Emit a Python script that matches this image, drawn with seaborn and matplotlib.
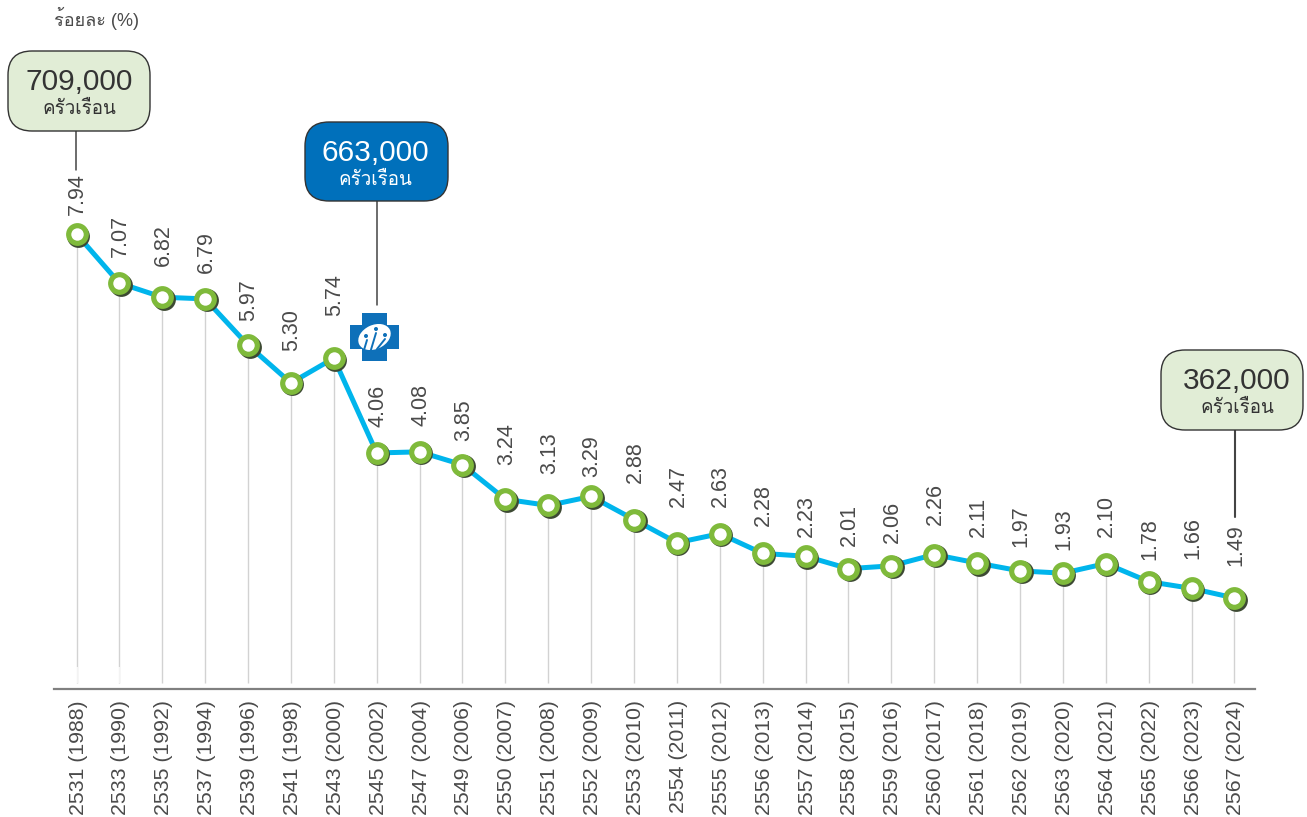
import matplotlib
matplotlib.use("Agg")
import matplotlib.pyplot as plt
import matplotlib.font_manager as fm
import seaborn as sns
from matplotlib.patches import FancyBboxPatch, Rectangle, Ellipse, Circle
from matplotlib.transforms import ScaledTranslation

W, H = 1307, 817

years = ["2531 (1988)", "2533 (1990)", "2535 (1992)", "2537 (1994)", "2539 (1996)", "2541 (1998)", "2543 (2000)",
         "2545 (2002)", "2547 (2004)", "2549 (2006)", "2550 (2007)", "2551 (2008)", "2552 (2009)", "2553 (2010)",
         "2554 (2011)", "2555 (2012)", "2556 (2013)", "2557 (2014)", "2558 (2015)", "2559 (2016)", "2560 (2017)",
         "2561 (2018)", "2562 (2019)", "2563 (2020)", "2564 (2021)", "2565 (2022)", "2566 (2023)", "2567 (2024)"]
values = [7.94, 7.07, 6.82, 6.79, 5.97, 5.30, 5.74, 4.06, 4.08, 3.85, 3.24, 3.13, 3.29, 2.88,
          2.47, 2.63, 2.28, 2.23, 2.01, 2.06, 2.26, 2.11, 1.97, 1.93, 2.10, 1.78, 1.66, 1.49]
y_title = "ร้อยละ (%)"
unit = "ครัวเรือน"
callouts = ["709,000", "663,000", "362,000"]

# hand-placed label baselines in the reference (pixels from the top of the picture)
label_bottoms = [217, 259, 268, 275, 323, 353, 318, 429, 428, 443, 467, 476, 479, 485,
                 509, 509, 528, 539, 548, 545, 527, 539, 549, 552, 539, 562, 561, 568]

sns.set_theme(style="white")

thai = []
for f in fm.fontManager.ttflist:
    try:
        cm = fm.get_font(f.fname).get_charmap()
    except Exception:
        continue
    if 0x0E04 in cm and f.name not in thai:
        thai.append(f.name)
latin = "Liberation Sans"
plt.rcParams["font.family"] = [latin] + thai + ["DejaVu Sans"]

fig = plt.figure(figsize=(W / 100, H / 100), dpi=100)
ax = fig.add_axes([54 / W, (H - 689) / H, (1255 - 54) / W, 689 / H])
px_per_x = (1235 - 77) / 27
px_per_y = (598 - 234) / (7.94 - 1.49)
y0 = 598 + 1.49 * px_per_y
ax.set_xlim(-(76.5 - 54) / px_per_x, 27 + (1255.5 - 1235) / px_per_x)
ax.set_ylim(-(689 - y0) / px_per_y, y0 / px_per_y)

xs = list(range(len(values)))
ax.vlines(xs, -(683 - y0) / px_per_y, values, color="#d2d2d2", lw=1.0, zorder=1)
ax.vlines(xs[:2], -(683 - y0) / px_per_y, -(667 - y0) / px_per_y, color="white", lw=1.6, alpha=0.75, zorder=1.5)
sns.lineplot(x=xs, y=values, ax=ax, color="#00b5ec", lw=3.6, zorder=2, legend=False)
shadow = ax.transData + ScaledTranslation(1.5 / 100, -1.5 / 100, fig.dpi_scale_trans)
ax.scatter(xs, values, s=270, color="#3d4a33", lw=0, zorder=3, transform=shadow)
sns.scatterplot(x=xs, y=values, ax=ax, s=270, color="#7fba3b", linewidth=0, zorder=4, legend=False)
sns.scatterplot(x=xs, y=values, ax=ax, s=80, color="white", linewidth=0, zorder=5, legend=False)

for x, v, b in zip(xs, values, label_bottoms):
    ax.annotate(f"{v:.2f}", (x, v), xytext=(1, (y0 - v * px_per_y) - b + 2), textcoords="offset pixels", rotation=90,
                ha="center", va="bottom", fontsize=15.5, color="#4a4a4a", zorder=6)

for s in ["top", "left", "right"]:
    ax.spines[s].set_visible(False)
ax.spines["bottom"].set_color("#808080")
ax.spines["bottom"].set_linewidth(1.6)
ax.set_yticks([])
ax.set_xticks(xs)
ax.set_xticklabels(years, rotation=90, fontsize=15.3, color="#4a4a4a")
ax.tick_params(axis="x", length=0, pad=8)
tick_shift = ScaledTranslation(1.5 / 100, 0, fig.dpi_scale_trans)
for lab in ax.get_xticklabels():
    lab.set_transform(lab.get_transform() + tick_shift)
ax.set_xlabel("")
ax.set_ylabel("")


def fx(p):
    return p / W


def fy(p):
    return 1 - p / H


fig.text(fx(54), fy(18), y_title, fontsize=13, color="#4a4a4a", va="center", ha="left")


def callout(x0, y0_, x1, y1, text, fc, tc, lx, ly0, ly1, cx, lw=1.1):
    r = 24
    bx = FancyBboxPatch((x0 + r, H - y1 + r), x1 - x0 - 2 * r, y1 - y0_ - 2 * r,
                        boxstyle=f"round,pad={r},rounding_size={r}", fc=fc, ec="#333333", lw=1.0,
                        transform=None, zorder=8)
    fig.add_artist(bx)
    fig.add_artist(plt.Line2D([fx(lx), fx(lx)], [fy(ly0), fy(ly1)], color="#444444", lw=lw, zorder=7))
    fig.text(fx(cx), fy(y0_ + 31), text, fontsize=21.5, color=tc, ha="center", va="center", zorder=9)
    fig.text(fx(cx), fy(y0_ + 58), unit, fontsize=13.5, color=tc, ha="center", va="center", zorder=9)


callout(8, 51, 150, 131, callouts[0], "#e1edd6", "#333333", 76, 131, 170, 79)
callout(305, 122, 448, 201, callouts[1], "#0070bb", "white", 377, 201, 305, 375)
callout(1161, 350, 1303, 430, callouts[2], "#e1edd6", "#333333", 1235, 430, 517, 1237, lw=1.5)

# logo
blue = "#0e70b9"
fig.add_artist(Rectangle((362, H - 361), 25, 48, fc=blue, ec="none", transform=None, zorder=8))
fig.add_artist(Rectangle((350, H - 349), 49, 24, fc=blue, ec="none", transform=None, zorder=8))
fig.add_artist(Ellipse((374.5, H - 337), 34, 24, angle=25, fc="white", ec="none", transform=None, zorder=9))
for cx_, cy_ in [(366, 336), (376, 329), (385, 335)]:
    fig.add_artist(Circle((cx_, H - cy_), 2.0, fc=blue, ec="none", transform=None, zorder=10))
for pts in [((364, 350), (367, 340)), ((370, 353), (376, 333)), ((377, 349), (385, 339))]:
    fig.add_artist(plt.Line2D([fx(pts[0][0]), fx(pts[1][0])], [fy(pts[0][1]), fy(pts[1][1])],
                              color=blue, lw=1.4, zorder=10))

fig.savefig("out.png", dpi=100)
